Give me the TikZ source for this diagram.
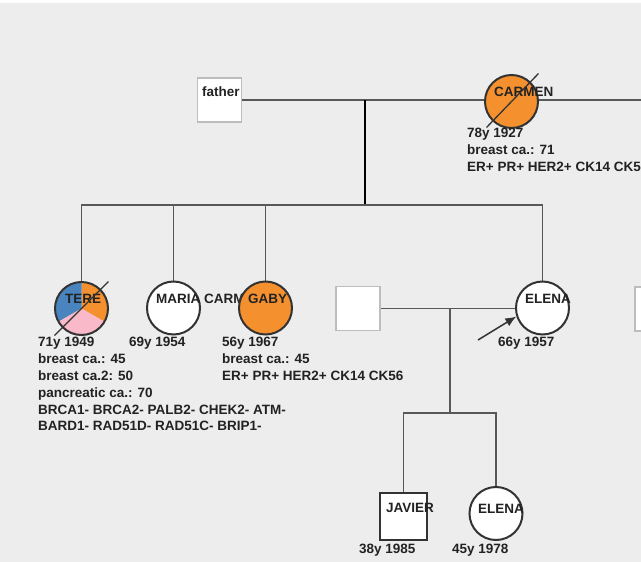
\documentclass[tikz,border=0pt]{standalone}
\usepackage{fontspec}
\setmainfont{Liberation Sans}
\usetikzlibrary{arrows.meta,backgrounds}
\definecolor{ink}{HTML}{222222}
\definecolor{line}{HTML}{585858}
\definecolor{rim}{HTML}{333333}
\definecolor{pale}{HTML}{BDBDBD}
\definecolor{panel}{HTML}{EDEDED}
\definecolor{breastfill}{HTML}{F5902E}
\definecolor{secondfill}{HTML}{4A84BE}
\definecolor{pancfill}{HTML}{F9B9C9}

\begin{document}
\begin{tikzpicture}[
  x=1pt, y=-1pt,
  font=\fontsize{13.5}{16.8}\selectfont\bfseries,
  text=ink,
  female/.style={
    circle,
    draw=rim,
    line width=2pt,
    minimum size=53pt,
    inner sep=0pt,
    fill=white
  },
  male/.style={
    rectangle,
    draw=rim,
    line width=2pt,
    minimum size=47pt,
    inner sep=0pt,
    fill=white
  },
  spouse/.style={
    rectangle,
    draw=pale,
    line width=1.6pt,
    minimum size=44pt,
    inner sep=0pt,
    fill=white
  },
  affected/.style={fill=breastfill},
  pname/.style={anchor=base west, inner sep=0pt},
  info/.style={anchor=north west, inner sep=0pt, align=left},
  link/.style={draw=line, line width=1.6pt},
  descent/.style={draw=black, line width=2pt},
  deceased/.style={draw=rim, line width=1.3pt},
  proband/.style={-{Latex[length=11pt,width=9pt]}, draw=rim, line width=1.5pt}
]
\useasboundingbox (0,0) rectangle (641,562);

% First generation
\node[spouse] (father) at (219.5,100) {};
\node[pname] (fathername) at (202,96) {father};
\node[female, affected] (carmen) at (511.5,101.5) {};
\node[pname] (carmenname) at (494,96) {CARMEN};
\node[info] (carmeninfo) at (467,128.3) {78y 1927\\breast ca.: 71\\ER+ PR+ HER2+ CK14 CK56};

% Second generation
\node[female, fill=none] (tere) at (81.5,308.5) {};
\node[pname] (terename) at (65,303) {TERE};
\node[info] (tereinfo) at (38,337.3) {71y 1949\\breast ca.: 45\\breast ca.2: 50\\pancreatic ca.: 70\\BRCA1- BRCA2- PALB2- CHEK2- ATM-\\BARD1- RAD51D- RAD51C- BRIP1-};
\node[female] (maria) at (173.5,308) {};
\node[pname] (marianame) at (156,303) {MARIA CARMEN};
\node[info] (mariainfo) at (129,337.3) {69y 1954};
\node[female, affected] (gaby) at (265.5,308) {};
\node[pname] (gabyname) at (248,303) {GABY};
\node[info] (gabyinfo) at (222,337.3) {56y 1967\\breast ca.: 45\\ER+ PR+ HER2+ CK14 CK56};
\node[spouse] (husband) at (358,308.5) {};
\node[female] (elena) at (542.5,308) {};
\node[pname] (elenaname) at (525,303) {ELENA};
\node[info] (elenainfo) at (498,337.3) {66y 1957};
\node[spouse] (rightspouse) at (657,309) {};

% Third generation
\node[male] (javier) at (403.5,516.5) {};
\node[pname] (javiername) at (386,512) {JAVIER};
\node[info] (javierinfo) at (359,544.3) {38y 1985};
\node[female] (elenajr) at (496,513.5) {};
\node[pname] (elenajrname) at (478,513) {ELENA};
\node[info] (elenajrinfo) at (452,544.3) {45y 1978};

% Deceased marks and proband
\draw[deceased] ([xshift=-27pt,yshift=-27pt]tere.center) -- ([xshift=27pt,yshift=27pt]tere.center);
\draw[deceased] ([xshift=-25pt,yshift=-26pt]carmen.center) -- ([xshift=27pt,yshift=28pt]carmen.center);
\coordinate (probtail) at (478,340);
\draw[proband] (probtail) -- (elena.198);

% Lines of descent
\begin{scope}[on background layer]
  \fill[panel] (0,0) rectangle (641,562);
  \fill[white] (0,0) rectangle (641,3);
  \coordinate (offright) at (641,100);
  \coordinate (union) at (365,100);
  \coordinate (sibbar) at (365,205);
  \coordinate (union2) at (450,308.5);
  \coordinate (kidbar) at (450,413);
  \draw[link] (father.east) -- (carmen.west |- father.east);
  \draw[link] (carmen.east |- father.east) -- (offright);
  \draw[descent] (union) -- (sibbar);
  \draw[link] (tere.north) |- (sibbar) -| (elena.north);
  \draw[link] (maria.north) -- (maria.north |- sibbar);
  \draw[link] (gaby.north) -- (gaby.north |- sibbar);
  \draw[link] (husband.east) -- (elena.west |- husband.east);
  \draw[link] (union2) -- (kidbar);
  \draw[link] (javier.north) |- (kidbar) -| (elenajr.north);
  % tere: three cancers
  \fill[breastfill] (tere.center) -- ++(90:26pt) arc[start angle=90, end angle=-30, radius=26pt] -- cycle;
  \fill[secondfill] (tere.center) -- ++(90:26pt) arc[start angle=90, end angle=210, radius=26pt] -- cycle;
  \fill[pancfill] (tere.center) -- ++(210:26pt) arc[start angle=210, end angle=330, radius=26pt] -- cycle;
\end{scope}

\end{tikzpicture}
\end{document}
